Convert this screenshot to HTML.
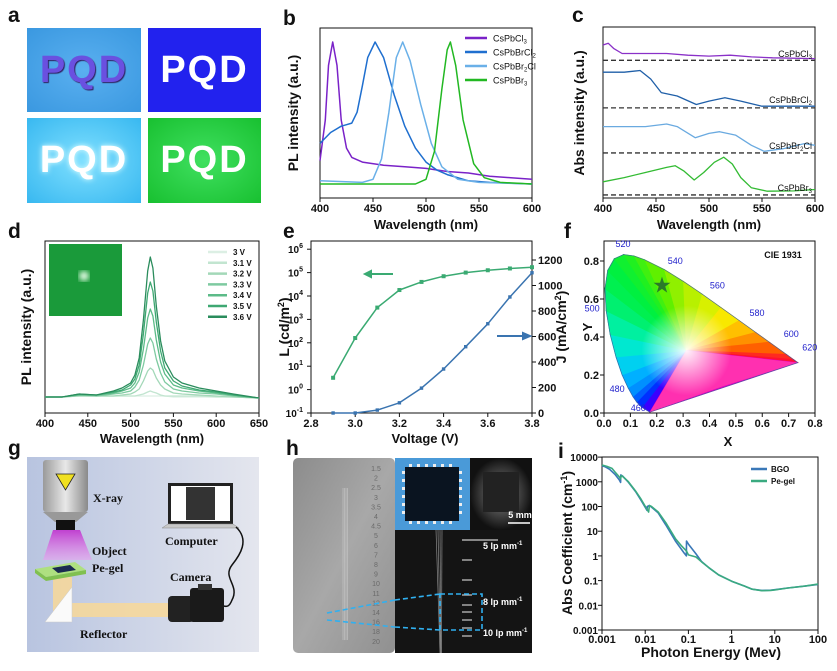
<!DOCTYPE html>
<html><head><meta charset="utf-8"><style>
html,body{margin:0;padding:0;background:#fff;}
#wrap{position:relative;width:837px;height:671px;overflow:hidden;font-family:"Liberation Sans",sans-serif;}
svg{position:absolute;left:0;top:0;}
.tile{position:absolute;display:flex;align-items:center;justify-content:center;font:bold 38px "Liberation Sans",sans-serif;letter-spacing:2px;}
</style></head><body>
<div id="wrap">
<div class="tile" style="left:27px;top:28px;width:114px;height:84px;background:radial-gradient(#5ab0f0,#3a98e0);color:#6a50e0;text-shadow:1px 1px 1px #302060;">PQD</div>
<div class="tile" style="left:148px;top:28px;width:113px;height:84px;background:#2222ee;color:#fff;">PQD</div>
<div class="tile" style="left:27px;top:118px;width:114px;height:85px;background:radial-gradient(#80e0ff,#38b8f0);color:#fff;text-shadow:0 0 6px #e0ffff;">PQD</div>
<div class="tile" style="left:148px;top:118px;width:113px;height:85px;background:radial-gradient(#40e060,#18c030);color:#fff;">PQD</div>
<svg id="fig" width="837" height="671" viewBox="0 0 837 671">
<defs>
<linearGradient id="gbg" x1="0" y1="0" x2="1" y2="0"><stop offset="0" stop-color="#b8c4e0"/><stop offset="1" stop-color="#e4e6ee"/></linearGradient>
<linearGradient id="metal" x1="0" y1="0" x2="1" y2="1"><stop offset="0" stop-color="#8c8c8c"/><stop offset="0.5" stop-color="#a8a8a8"/><stop offset="1" stop-color="#909090"/></linearGradient>
<linearGradient id="tube" x1="0" y1="0" x2="1" y2="0"><stop offset="0" stop-color="#9a9a9a"/><stop offset="0.5" stop-color="#e8e8e8"/><stop offset="1" stop-color="#8a8a8a"/></linearGradient>
<linearGradient id="beam" x1="0" y1="0" x2="0" y2="1"><stop offset="0" stop-color="#c040d0"/><stop offset="1" stop-color="#e8a0f0" stop-opacity="0.6"/></linearGradient>
<radialGradient id="wp" cx="0.5" cy="0.5" r="0.5"><stop offset="0" stop-color="#fff" stop-opacity="0.95"/><stop offset="1" stop-color="#fff" stop-opacity="0"/></radialGradient>
<radialGradient id="glow" cx="0.5" cy="0.5" r="0.5"><stop offset="0" stop-color="#888"/><stop offset="1" stop-color="#111"/></radialGradient>
<filter id="bl"><feGaussianBlur stdDeviation="3"/></filter>
</defs>
</svg>
</div>
<script>
// ---------- data (panel b) ----------
const bCl3Wl=[400,405,408,412,416,420,425,430,440,460,480,500,520,540,560,580,600];
const bCl3Val=[0.24,0.5,0.85,1.0,0.85,0.5,0.32,0.26,0.23,0.21,0.2,0.19,0.17,0.16,0.14,0.13,0.12];
const bBrCl2Wl=[400,410,420,425,430,435,440,445,452,460,470,480,490,500,510,520,540,560,600];
const bBrCl2Val=[0.35,0.42,0.46,0.47,0.48,0.55,0.72,0.9,1.0,0.9,0.66,0.46,0.32,0.23,0.18,0.15,0.11,0.1,0.09];
const bBr2ClWl=[400,440,450,458,465,472,478,485,495,505,515,530,550,600];
const bBr2ClVal=[0.11,0.1,0.12,0.25,0.55,0.9,1.0,0.88,0.6,0.35,0.2,0.12,0.1,0.09];
const bBr3Wl=[400,490,500,508,515,520,523,528,535,545,555,570,600];
const bBr3Val=[0.09,0.09,0.12,0.3,0.7,0.95,1.0,0.85,0.5,0.22,0.13,0.1,0.09];
const bTicks=[400,450,500,550,600];
// ---------- data (panel c) ----------
const cCl3Wl=[400,405,410,418,430,460,480,500,520,540,560,600];
const cCl3Val=[90,91,88,85,85,85,84,83.5,84,83,82.5,82];
const cBrCl2Wl=[400,420,435,445,455,470,488,500,515,530,550,600];
const cBrCl2Val=[74,74,75,70,62,60,55,57,59,57,54,54];
const cBr2ClWl=[400,440,460,470,487,500,510,525,540,552,570,590,600];
const cBr2ClVal=[42,42,43.5,42,35.5,38,39,37,31,27.5,29,32,31];
const cBr3Wl=[400,420,440,460,468,476,486,495,505,514,522,530,540,555,580,600];
const cBr3Val=[9.5,12,15,18,19,16,10.6,15,21,24,20,12,6,4,4.2,5];
const cBaselines=[81,53,26.5,1.8];
// ---------- data (panel d) ----------
const dWl=[400,420,440,460,480,490,500,505,510,515,520,523,526,530,535,540,550,560,580,600,620,650];
const dV36=[16,16,19,18,22,25,30,38,55,93,142,156,145,107,72,52,36,30,25,22,19,15];
const dV35=[16,16,19,18,21,23,28,34,48,79,120,131,122,91,62,45,32,27,23,21,18,15];
const dV34=[16,16,18,18,20,22,25,30,41,64,95,104,97,73,51,39,28,25,22,20,18,15];
const dV33=[16,16,18,17,19,20,22,26,33,48,69,75,70,54,40,31,24,22,20,19,17,15];
const dV32=[16,16,17,17,17,18,19,21,24,32,42,45,43,35,28,24,20,19,18,17,16,15];
const dV31=[16,16,17,17,17,17,17,17,18,19,21,22,21,20,18,17,17,17,17,16,16,15];
const dV30=[16,16,17,17,17,17,17,17,17,17,17,17,17,17,17,17,16,16,16,16,16,15];
const dLabels=['3 V','3.1 V','3.2 V','3.3 V','3.4 V','3.5 V','3.6 V'];
const dTicks=[400,450,500,550,600,650];
// ---------- data (panel e) ----------
const eVolt=[2.9,3.0,3.1,3.2,3.3,3.4,3.5,3.6,3.7,3.8];
const eLum=[3.2,160,3200,18000,40000,70000,100000,126000,150000,170000];
const eJ=[0,0,23,80,195,345,520,700,910,1100];
const eXTicks=[2.8,3.0,3.2,3.4,3.6,3.8];
const eLTicks=[-1,0,1,2,3,4,5,6];
const eJTicks=[0,200,400,600,800,1000,1200];
// ---------- data (panel f) ----------
const fLocusX=[0.1741,0.144,0.1241,0.1096,0.0913,0.0687,0.0454,0.0235,0.0082,0.0039,0.0139,0.0389,0.0743,0.1142,0.1547,0.2296,0.3016,0.3731,0.4441,0.5125,0.5752,0.627,0.6915,0.719,0.7347];
const fLocusY=[0.005,0.0297,0.0578,0.0868,0.1327,0.2007,0.295,0.4127,0.5384,0.6548,0.7502,0.812,0.8338,0.8262,0.8059,0.7543,0.6923,0.6245,0.5547,0.4866,0.4242,0.3725,0.3083,0.2809,0.2653];
const fColors=['#3a00ff','#0030ff','#0060ff','#0090ff','#00b0ff','#00d0f0','#00e8d0','#00f0a0','#00f070','#00f050','#00f040','#10f030','#20f020','#40f010','#60f000','#90f000','#b8f000','#d8f000','#f8e800','#ffc000','#ff9000','#ff6000','#ff2a20','#ff1030','#ff0040'];
const fWlLabels=['520','540','560','580','600','620','500','480','460'];
const fWlX=[0.072,0.27,0.43,0.58,0.71,0.78,-0.045,0.05,0.13];
const fWlY=[0.875,0.785,0.655,0.51,0.4,0.33,0.535,0.11,0.01];
const fStar=[0.22,0.67];
const fXTicks=[0,0.1,0.2,0.3,0.4,0.5,0.6,0.7,0.8];
const fYTicks=[0,0.2,0.4,0.6,0.8];
// ---------- data (panel i) ----------
const iBgoE=[0.001,0.0012,0.0015,0.002,0.0025,0.0027,0.00272,0.003,0.004,0.006,0.008,0.011,0.0112,0.0125,0.014,0.02,0.03,0.05,0.08,0.09,0.0905,0.1,0.15,0.2,0.3,0.5,1,2,3,5,8,10,20,50,100];
const iBgoA=[4500,4000,3200,2000,1200,950,1900,1700,1000,400,180,70,100,110,95,55,18,4,1.3,1,4,3,1.2,0.6,0.33,0.17,0.095,0.06,0.045,0.04,0.041,0.043,0.05,0.06,0.07];
const iPeE=[0.001,0.0013,0.0017,0.002,0.0025,0.0027,0.0028,0.003,0.004,0.006,0.008,0.012,0.0125,0.014,0.02,0.03,0.05,0.07,0.09,0.1,0.15,0.2,0.3,0.5,1,2,3,5,8,10,20,50,100];
const iPeA=[4800,4200,3500,2500,1600,1300,1800,1650,1050,420,200,60,110,100,60,22,5,2.5,1.6,1.1,0.9,0.58,0.33,0.17,0.095,0.06,0.045,0.039,0.04,0.042,0.05,0.06,0.072];
const iXTicks=['0.001','0.01','0.1','1','10','100'];
const iYTicks=['0.001','0.01','0.1','1','10','100','1000','10000'];

// ---------- helpers ----------
const NS='http://www.w3.org/2000/svg';
const svg=document.getElementById('fig');
function mk(tag,attrs,parent){const e=document.createElementNS(NS,tag);for(const k in attrs)e.setAttribute(k,attrs[k]);(parent||svg).appendChild(e);return e;}
function grp(name){const g=mk('g',{});


return g;}
function T(s,x,y,o,parent){o=o||{};const t=mk('text',{x:x,y:y,'font-family':o.ff||'Liberation Sans, sans-serif','font-size':o.fs||11,'font-weight':o.fw||'bold','text-anchor':o.a||'middle',fill:o.fill||'#111'},parent);
if(o.rot)t.setAttribute('transform','rotate(-90 '+x+' '+y+')');
t.textContent=s;


return t;}
function lin(d0,d1,r0,r1){return v=>r0+(v-d0)*(r1-r0)/(d1-d0);}
function line(xs,ys,sx,sy,color,w,parent,name){let d='';for(let i=0;i<xs.length;i++)d+=(i?'L':'M')+sx(xs[i]).toFixed(1)+','+sy(ys[i]).toFixed(1);
const p=mk('path',{d:d,fill:'none',stroke:color,'stroke-width':w,'stroke-linejoin':'round'},parent);


return p;}
function frame(x0,y0,x1,y1,parent){const r=mk('rect',{x:x0,y:y0,width:x1-x0,height:y1-y0,fill:'none',stroke:'#111','stroke-width':1},parent);

}
function tick(x1,y1,x2,y2,parent){const l=mk('line',{x1:x1,y1:y1,x2:x2,y2:y2,stroke:'#111','stroke-width':1},parent);

}
function letter(s,x,y){T(s,x,y,{fs:21,a:'start',name:'panel-label-'+s});}

letter('a',8,22);

// ---------- panel b ----------
(function(){const g=grp('panel-b');const sx=lin(400,600,320,532);const sy=v=>198-156*v;
frame(320,28,532,198,g);
bTicks.forEach(t=>{tick(sx(t),198,sx(t),202,g);T(String(t),sx(t),212,{name:'x-tick-label'},g);});
line(bCl3Wl,bCl3Val,sx,sy,'#7a22c8',1.5,g,'curve-cspbcl3');
line(bBrCl2Wl,bBrCl2Val,sx,sy,'#1f6fcf',1.5,g,'curve-cspbbrcl2');
line(bBr2ClWl,bBr2ClVal,sx,sy,'#6ab0e8',1.5,g,'curve-cspbbr2cl');
line(bBr3Wl,bBr3Val,sx,sy,'#22b822',1.5,g,'curve-cspbbr3');
const lg=[['CsPbCl','3','#7a22c8'],['CsPbBrCl','2','#1f6fcf'],['CsPbBr','2','#6ab0e8',true],['CsPbBr','3','#22b822']];
lg.forEach((e,i)=>{const y=38+i*14;const l=mk('line',{x1:465,y1:y,x2:487,y2:y,stroke:e[2],'stroke-width':2.5},g);


const t=T('',493,y+3.5,{fs:9,a:'start',fw:'normal',name:'legend-entry'},g);t.textContent=e[0];const s=mk('tspan',{dy:2,'font-size':6},t);s.textContent=e[1];if(e[3]){const s2=mk('tspan',{dy:-2,'font-size':9},t);s2.textContent='Cl';}});
T('PL intensity (a.u.)',298,113,{fs:14,rot:true,name:'y-axis-title'},g);
T('Wavelength (nm)',426,229,{fs:13,name:'x-axis-title'},g);
letter('b',283,25);})();

// ---------- panel c ----------
(function(){const g=grp('panel-c');const sx=lin(400,600,603,815);const sy=v=>198-1.7*v;
frame(603,27,815,198,g);
bTicks.forEach(t=>{tick(sx(t),198,sx(t),202,g);T(String(t),sx(t),212,{name:'x-tick-label'},g);});
cBaselines.forEach(b=>{const l=mk('line',{x1:603,y1:sy(b),x2:815,y2:sy(b),stroke:'#333','stroke-width':1.3,'stroke-dasharray':'5,3'},g);

});
line(cCl3Wl,cCl3Val,sx,sy,'#8a30c8',1.3,g,'abs-cspbcl3');
line(cBrCl2Wl,cBrCl2Val,sx,sy,'#1f5fa8',1.3,g,'abs-cspbbrcl2');
line(cBr2ClWl,cBr2ClVal,sx,sy,'#6aaae0',1.3,g,'abs-cspbbr2cl');
line(cBr3Wl,cBr3Val,sx,sy,'#33bb33',1.3,g,'abs-cspbbr3');
const lb=[['CsPbCl','3','',57],['CsPbBrCl','2','',103],['CsPbBr','2','Cl',149],['CsPbBr','3','',191]];
lb.forEach(e=>{const t=T('',812,e[3],{fs:9,a:'end',fw:'normal',name:'series-label'},g);t.textContent=e[0];const s=mk('tspan',{dy:2,'font-size':6},t);s.textContent=e[1];if(e[2]){const s2=mk('tspan',{dy:-2,'font-size':9},t);s2.textContent=e[2];}});
T('Abs intensity (a.u.)',584,113,{fs:14,rot:true,name:'y-axis-title'},g);
T('Wavelength (nm)',709,229,{fs:13,name:'x-axis-title'},g);
letter('c',572,22);})();

// ---------- panel d ----------
(function(){const g=grp('panel-d');const sx=lin(400,650,45,259);const sy=v=>413-v;
frame(45,241,259,413,g);
dTicks.forEach(t=>{tick(sx(t),413,sx(t),417,g);T(String(t),sx(t),427,{name:'x-tick-label'},g);});
const ser=[dV30,dV31,dV32,dV33,dV34,dV35,dV36];const cols=['#dcefe4','#c2e5d0','#a3d8b8','#7ecaa0','#5cbb88','#3ea872','#2a8c5c'];
ser.forEach((s,i)=>line(dWl,s,sx,sy,cols[i],1.3,g,'spectrum-'+dLabels[i].replace(' ','')));
const ins=mk('rect',{x:49,y:244,width:73,height:72,fill:'#1a9a3a'},g);


const sp=mk('circle',{cx:84,cy:276,r:5,fill:'#eaffea',filter:'url(#bl)'},g);


dLabels.forEach((lb,i)=>{const y=252+i*10.8;const l=mk('line',{x1:208,y1:y,x2:227,y2:y,stroke:cols[i],'stroke-width':2.5},g);


T(lb,233,y+3,{fs:8,a:'start',name:'legend-entry'},g);});
T('PL intensity (a.u.)',31,327,{fs:14,rot:true,name:'y-axis-title'},g);
T('Wavelength (nm)',152,443,{fs:13,name:'x-axis-title'},g);
letter('d',8,238);})();

// ---------- panel e ----------
(function(){const g=grp('panel-e');const sx=lin(2.8,3.8,311,532);const syL=v=>413-(Math.log10(v)+1)*23.4;const syJ=v=>413-v*153/1200;
frame(311,241,532,413,g);
eXTicks.forEach(t=>{tick(sx(t),413,sx(t),417,g);T(t.toFixed(1),sx(t),427,{name:'x-tick-label'},g);});
eLTicks.forEach(p=>{const y=413-(p+1)*23.4;tick(307,y,311,y,g);const t=T('10',303,y+4,{a:'end',fs:10,name:'y-tick-label-left'},g);const s=mk('tspan',{dy:-5,'font-size':7},t);s.textContent=String(p);});
eJTicks.forEach(v=>{tick(532,syJ(v),536,syJ(v),g);T(String(v),538,syJ(v)+4,{a:'start',name:'y-tick-label-right'},g);});
line(eVolt,eLum,sx,syL,'#3aaa72',1.5,g,'luminance-curve');
line(eVolt,eJ,sx,syJ,'#3a74b0',1.5,g,'current-density-curve');
eVolt.forEach((v,i)=>{const a=mk('rect',{x:sx(v)-2,y:syL(eLum[i])-2,width:4,height:4,fill:'#3aaa72'},g);


const b=mk('rect',{x:sx(v)-1.7,y:syJ(eJ[i])-1.7,width:3.4,height:3.4,fill:'#3a74b0'},g);

});
const a1=mk('path',{d:'M393,274 L365,274 M365,274 L371,271 L371,277 Z',stroke:'#3aaa72','stroke-width':2,fill:'#3aaa72'},g);


const a2=mk('path',{d:'M497,336 L524,336 M530,336 L523,333 L523,339 Z',stroke:'#3a74b0','stroke-width':2,fill:'#3a74b0'},g);


const ty=T('L (cd/m',289,327,{fs:14,rot:true,name:'y-axis-title-left'},g);const s=mk('tspan',{dy:-5,'font-size':9},ty);s.textContent='2';const s2=mk('tspan',{dy:5},ty);s2.textContent=')';
const tj=T('J (mA/cm',566,327,{fs:14,rot:true,name:'y-axis-title-right'},g);const s3=mk('tspan',{dy:-5,'font-size':9},tj);s3.textContent='2';const s4=mk('tspan',{dy:5},tj);s4.textContent=')';
T('Voltage (V)',425,443,{fs:13,name:'x-axis-title'},g);
letter('e',283,238);})();

// ---------- panel f ----------
(function(){const g=grp('panel-f');const sx=lin(0,0.8,604,815);const sy=v=>413-v*190;
const wx=sx(0.3127),wy=sy(0.329);
const n=fLocusX.length;
for(let i=0;i<n;i++){const j=(i+1)%n;const c=i==n-1?'#e000c0':fColors[i];
const p=mk('polygon',{points:wx+','+wy+' '+sx(fLocusX[i])+','+sy(fLocusY[i])+' '+sx(fLocusX[j])+','+sy(fLocusY[j]),fill:c,stroke:c,'stroke-width':0.8},g);

}
const pur=mk('polygon',{points:wx+','+wy+' '+sx(0.7347)+','+sy(0.2653)+' '+sx(0.45)+','+sy(0.14)+' '+sx(0.1741)+','+sy(0.005),fill:'#ff30b0'},g);


const w=mk('ellipse',{cx:wx,cy:wy,rx:45,ry:45,fill:'url(#wp)'},g);


let d='';fLocusX.forEach((x,i)=>{d+=(i?'L':'M')+sx(x).toFixed(1)+','+sy(fLocusY[i]).toFixed(1);});d+='Z';
const lp=mk('path',{d:d,fill:'none',stroke:'#4060a0','stroke-width':0.6},g);


frame(604,241,815,413,g);
fXTicks.forEach(t=>{tick(sx(t),413,sx(t),417,g);T(t.toFixed(1),sx(t),427,{name:'x-tick-label'},g);});
fYTicks.forEach(t=>{tick(600,sy(t),604,sy(t),g);T(t.toFixed(1),599,sy(t)+4,{a:'end',name:'y-tick-label'},g);});
fWlLabels.forEach((s,i)=>T(s,sx(fWlX[i]),sy(fWlY[i]),{fs:9,fw:'normal',fill:'#2222cc',name:'wavelength-label'},g));
T('CIE 1931',783,258,{fs:9,name:'cie-label'},g);
const st=mk('text',{x:sx(fStar[0]),y:sy(fStar[1])+7,'font-size':22,'text-anchor':'middle',fill:'#2a7a2a','font-family':'DejaVu Sans, sans-serif'},g);st.textContent='★';


T('Y',592,327,{fs:13,rot:true,name:'y-axis-title'},g);
T('X',728,446,{fs:13,name:'x-axis-title'},g);
letter('f',564,238);})();

// ---------- panel g ----------
(function(){const g=grp('panel-g');
const S=(tag,a,name)=>{const e=mk(tag,a,g);

return e;};
S('rect',{x:27,y:457,width:232,height:195,fill:'url(#gbg)'},'schematic-background');
S('path',{d:'M53,530 L80,530 L92,560 L43,560 Z',fill:'url(#beam)'},'xray-beam');
S('rect',{x:43,y:460,width:45,height:52,rx:3,fill:'url(#tube)'},'xray-tube');
S('path',{d:'M43,512 L88,512 L76,522 L55,522 Z',fill:'#999'},'xray-tube-neck');
S('rect',{x:56,y:520,width:19,height:10,fill:'#111'},'xray-window');
S('path',{d:'M56,474 L75,474 L65.5,490 Z',fill:'#f0e020',stroke:'#222','stroke-width':0.8},'radiation-sign');
S('path',{d:'M53,577 L72,577 L72,603 L171,603 L171,617 L53,617 Z',fill:'#f8d898',opacity:0.85},'light-path');
S('path',{d:'M35,569 L75,562 L86,570 L46,577 Z',fill:'#aee080'},'pe-gel-plate-top');
S('path',{d:'M35,569 L46,577 L46,581 L35,573 Z M46,577 L86,570 L86,574 L46,581 Z',fill:'#80c050'},'pe-gel-plate-side');
S('path',{d:'M52,568 L70,565 L76,570 L58,573 Z',fill:'#1a2a50'},'object-sample');
S('path',{d:'M72,587 L72,622 L45,622 Z',fill:'#fafafa',stroke:'#ccc','stroke-width':0.5},'reflector-prism');
S('rect',{x:168,y:483,width:65,height:41,fill:'#222'},'laptop-screen-frame');
S('rect',{x:171,y:486,width:59,height:35,fill:'#fff'},'laptop-screen');
S('rect',{x:186,y:487,width:29,height:33,fill:'#333'},'laptop-screen-image');
S('path',{d:'M168,524 L233,524 L239,528 L162,528 Z',fill:'#c8c8c8',stroke:'#888','stroke-width':0.5},'laptop-base');
S('path',{d:'M236,527 C250,540 240,555 232,565 C222,578 240,585 232,600 C228,610 225,605 220,606',fill:'none',stroke:'#111','stroke-width':1.5},'camera-cable');
S('rect',{x:168,y:596,width:26,height:26,rx:4,fill:'#222'},'camera-lens');
S('rect',{x:190,y:588,width:34,height:34,rx:3,fill:'#1a1a1a'},'camera-body');
S('rect',{x:198,y:584,width:14,height:6,fill:'#333'},'camera-prism');
const sf={ff:'Liberation Serif, serif',fs:12,a:'start',fw:'bold'};
T('X-ray',93,502,Object.assign({name:'label-xray'},sf),g);
T('Object',92,555,Object.assign({name:'label-object'},sf),g);
T('Pe-gel',92,572,Object.assign({name:'label-pe-gel'},sf),g);
T('Computer',165,545,Object.assign({name:'label-computer'},sf),g);
T('Camera',170,581,Object.assign({name:'label-camera'},sf),g);
T('Reflector',80,638,Object.assign({name:'label-reflector'},sf),g);
letter('g',8,455);})();

// ---------- panel h ----------
(function(){const g=grp('panel-h');
const S=(tag,a,name)=>{const e=mk(tag,a,g);

return e;};
S('rect',{x:293,y:458,width:102,height:195,rx:5,fill:'url(#metal)'},'line-pair-phantom-photo');
S('rect',{x:395,y:458,width:137,height:195,fill:'#141414'},'xray-image');
S('rect',{x:395,y:458,width:75,height:72,fill:'#4a9ad8'},'chip-photo');
S('rect',{x:405,y:467,width:54,height:54,fill:'#0a1420'},'chip-body');
S('rect',{x:470,y:458,width:62,height:72,fill:'url(#glow)'},'chip-xray-image');
S('rect',{x:483,y:472,width:36,height:40,fill:'#222'},'chip-xray-core');
for(let k=0;k<6;k++){S('rect',{x:409+k*8,y:464,width:3,height:3,fill:'#eee'},'chip-pin');S('rect',{x:409+k*8,y:521,width:3,height:3,fill:'#eee'},'chip-pin');S('rect',{x:402,y:471+k*8,width:3,height:3,fill:'#eee'},'chip-pin');S('rect',{x:459,y:471+k*8,width:3,height:3,fill:'#eee'},'chip-pin');}
for(let k=0;k<4;k++){S('line',{x1:343+k*1.5,y1:488,x2:343+k*1.5,y2:640,stroke:'#c8c8c8','stroke-width':0.6},'phantom-line');S('line',{x1:436+k*2,y1:530,x2:440+k*0.5,y2:653,stroke:'#888','stroke-width':0.7},'xray-line');}
[540,560,580,595,605,612,620,628,636].forEach((y,k)=>S('line',{x1:462,y1:y,x2:k==0?498:472,y2:y,stroke:'#ccc','stroke-width':1.2},'bar-pattern'));
const nums=['1.5','2','2.5','3','3.5','4','4.5','5','6','7','8','9','10','11','12','14','16','18','20'];
nums.forEach((n,k)=>T(n,376,471+k*9.6,{fs:7,fw:'normal',fill:'#6a6a6a',name:'phantom-number'},g));
S('path',{d:'M327,613 L395,600 M327,620 L395,627 M440,594 L482,594 L482,630 L440,630 Z M395,600 L440,594 M395,627 L440,630',fill:'none',stroke:'#30b0f0','stroke-width':1.6,'stroke-dasharray':'5,3'},'zoom-dashed-lines');
S('line',{x1:508,y1:523,x2:530,y2:523,stroke:'#fff','stroke-width':1.5},'scale-bar');
T('5 mm',520,518,{fs:9,fill:'#fff',name:'scale-bar-label'},g);
[['5 lp mm',549],['8 lp mm',605],['10 lp mm',636]].forEach(e=>{const t=T(e[0],483,e[1],{fs:9,a:'start',fill:'#fff',name:'resolution-label'},g);const s=mk('tspan',{dy:-4,'font-size':6},t);s.textContent='-1';});
letter('h',286,455);})();

// ---------- panel i ----------
(function(){const g=grp('panel-i');const sx=v=>602+(Math.log10(v)+3)*43.2;const sy=v=>630-(Math.log10(v)+3)*24.7;
frame(602,457,818,630,g);
iXTicks.forEach(t=>{const v=parseFloat(t);tick(sx(v),630,sx(v),634,g);T(t,sx(v),643,{name:'x-tick-label'},g);});
iYTicks.forEach(t=>{const v=parseFloat(t);tick(598,sy(v),602,sy(v),g);T(t,598,sy(v)+4,{a:'end',fs:10,name:'y-tick-label'},g);});
line(iBgoE,iBgoA,sx,sy,'#3a78b8',1.6,g,'curve-bgo');
line(iPeE,iPeA,sx,sy,'#3aaa80',1.6,g,'curve-pe-gel');
[['BGO','#3a78b8',469],['Pe-gel','#3aaa80',481]].forEach(e=>{const l=mk('line',{x1:751,y1:e[2],x2:767,y2:e[2],stroke:e[1],'stroke-width':2.5},g);


T(e[0],771,e[2]+3,{fs:8,a:'start',name:'legend-entry'},g);});
const ty=T('Abs Coefficient (cm',572,543,{fs:14,rot:true,name:'y-axis-title'},g);const s=mk('tspan',{dy:-5,'font-size':9},ty);s.textContent='-1';const s2=mk('tspan',{dy:5},ty);s2.textContent=')';
T('Photon Energy (Mev)',711,657,{fs:14,name:'x-axis-title'},g);
letter('i',558,458);})();
</script>
</body></html>
